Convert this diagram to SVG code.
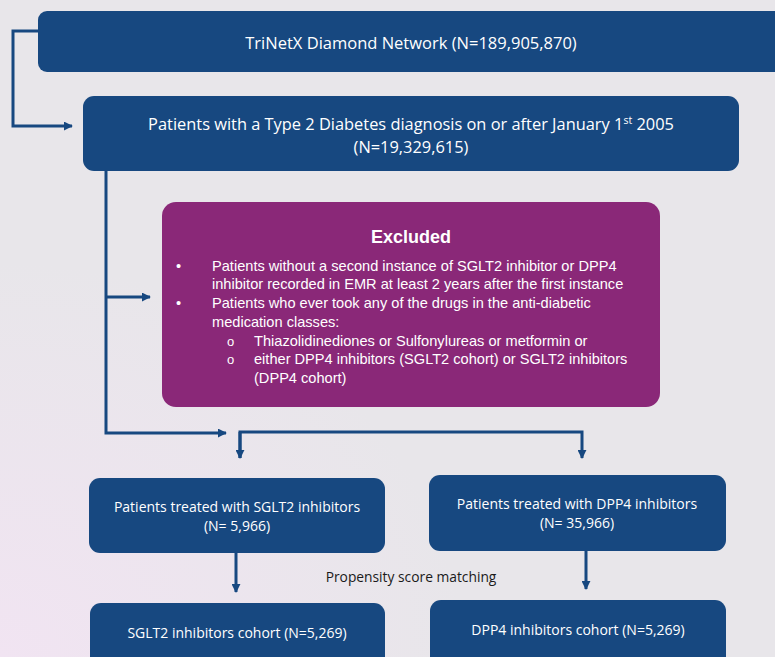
<svg xmlns="http://www.w3.org/2000/svg" width="775" height="657" viewBox="0 0 775 657">
<defs>
<radialGradient id="bg" cx="0" cy="1" r="0.6">
<stop offset="0" stop-color="#f1e4f2"/>
<stop offset="1" stop-color="#e8e6ea"/>
</radialGradient>
<marker id="ah" viewBox="0 0 10 10" refX="9" refY="5" markerWidth="3" markerHeight="3" orient="auto" markerUnits="strokeWidth">
<path d="M0,0 L10,5 L0,10 z" fill="#174880"/>
</marker>
<style>
.bx{fill:#174880;}
.ex{fill:#8a2878;}
.t{font-family:"Open Sans",Lato,"Liberation Sans",sans-serif;fill:#ffffff;text-anchor:middle;}
.a{font-family:"Liberation Sans",Arial,sans-serif;fill:#ffffff;}
.c{fill:none;stroke:#174880;stroke-width:3;}
</style>
</defs>
<rect width="775" height="657" fill="url(#bg)"/>
<g id="connectors">
<polyline class="c" points="38,31 13,31 13,126 72,126" marker-end="url(#ah)"/>
<polyline class="c" points="106,171 106,433 226,433" marker-end="url(#ah)"/>
<line class="c" x1="106" y1="297" x2="150" y2="297" marker-end="url(#ah)"/>
<polyline class="c" points="240,458 240,432 582,432 582,458" marker-end="url(#ah)"/>
<polyline class="c" points="240,432 240,458" marker-end="url(#ah)"/>
<line class="c" x1="236" y1="553" x2="236" y2="592" marker-end="url(#ah)"/>
<line class="c" x1="586" y1="551" x2="586" y2="589" marker-end="url(#ah)"/>
</g>
<g id="n-trinetx">
<rect class="bx" x="38" y="11" width="760" height="61" rx="9"/>
<text class="t" x="411" y="49" font-size="16.5">TriNetX Diamond Network (N=189,905,870)</text>
</g>
<g id="n-t2d">
<rect class="bx" x="83" y="96" width="656" height="75" rx="11"/>
<text class="t" x="411" y="130" font-size="16.4">Patients with a Type 2 Diabetes diagnosis on or after January 1<tspan font-size="10.5" dy="-6">st</tspan><tspan dy="6"> 2005</tspan></text>
<text class="t" x="411" y="153" font-size="16.4">(N=19,329,615)</text>
</g>
<g id="n-excluded">
<rect class="ex" x="162" y="202" width="498" height="205" rx="14"/>
<text class="a" x="411" y="243" font-size="18" font-weight="bold" text-anchor="middle">Excluded</text>
<g font-size="14.6">
<text class="a" x="176" y="271">•</text>
<text class="a" x="212" y="271">Patients without a second instance of SGLT2 inhibitor or DPP4</text>
<text class="a" x="212" y="289">inhibitor recorded in EMR at least 2 years after the first instance</text>
<text class="a" x="176" y="308">•</text>
<text class="a" x="212" y="308">Patients who ever took any of the drugs in the anti-diabetic</text>
<text class="a" x="212" y="327">medication classes:</text>
<text class="a" x="227" y="346" font-size="13">o</text>
<text class="a" x="254" y="346">Thiazolidinediones or Sulfonylureas or metformin or</text>
<text class="a" x="227" y="364" font-size="13">o</text>
<text class="a" x="254" y="364">either DPP4 inhibitors (SGLT2 cohort) or SGLT2 inhibitors</text>
<text class="a" x="254" y="383">(DPP4 cohort)</text>
</g>
</g>
<g id="n-sglt2">
<rect class="bx" x="89" y="478" width="296" height="75" rx="11"/>
<text class="t" x="237" y="512" font-size="14">Patients treated with SGLT2 inhibitors</text>
<text class="t" x="237" y="531" font-size="14">(N= 5,966)</text>
</g>
<g id="n-dpp4">
<rect class="bx" x="429" y="475" width="297" height="76" rx="11"/>
<text class="t" x="577" y="509" font-size="14">Patients treated with DPP4 inhibitors</text>
<text class="t" x="577" y="528" font-size="14">(N= 35,966)</text>
</g>
<g id="l-psm">
<text x="411" y="582" font-family="'Open Sans',Lato,'Liberation Sans',sans-serif" font-size="13.8" fill="#1a1a1a" text-anchor="middle">Propensity score matching</text>
</g>
<g id="n-sglt2c">
<rect class="bx" x="90" y="603" width="295" height="70" rx="11"/>
<text class="t" x="237" y="638" font-size="14">SGLT2 inhibitors cohort (N=5,269)</text>
</g>
<g id="n-dpp4c">
<rect class="bx" x="430" y="600" width="296" height="73" rx="11"/>
<text class="t" x="578" y="635" font-size="14">DPP4 inhibitors cohort (N=5,269)</text>
</g>
</svg>
